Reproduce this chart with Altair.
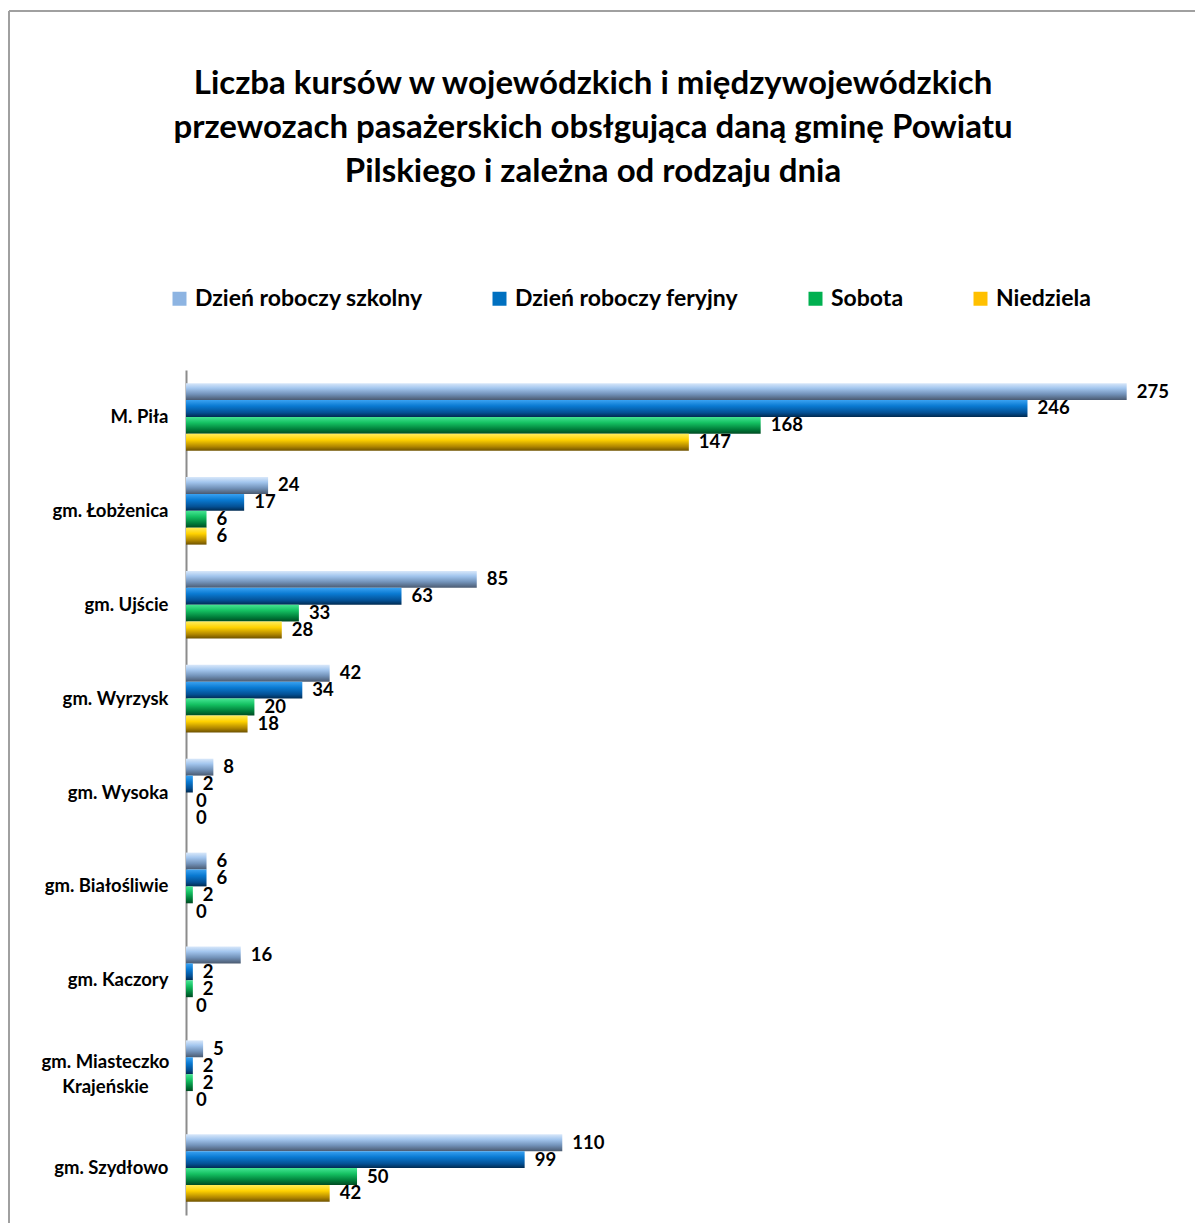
import altair as alt
import pandas as pd

gminy = ["M. Piła", "gm. Łobżenica", "gm. Ujście", "gm. Wyrzysk", "gm. Wysoka",
         "gm. Białośliwie", "gm. Kaczory", "gm. Miasteczko Krajeńskie", "gm. Szydłowo"]
series = ["Dzień roboczy szkolny", "Dzień roboczy feryjny", "Sobota", "Niedziela"]
szkolny = [275, 24, 85, 42, 8, 6, 16, 5, 110]
feryjny = [246, 17, 63, 34, 2, 6, 2, 2, 99]
sobota = [168, 6, 33, 20, 0, 2, 2, 2, 50]
niedziela = [147, 6, 28, 18, 0, 0, 0, 0, 42]
legend_colors = ["#8DB4E2", "#0070C0", "#00B050", "#FFC000"]
gradient_stops = [
    [("#D9E8FA", 0), ("#A3C6EE", 0.3), ("#7393BA", 0.65), ("#4A5A70", 1)],
    [("#3AA2F2", 0), ("#0A7AD2", 0.35), ("#045094", 0.75), ("#002A50", 1)],
    [("#45E593", 0), ("#14C061", 0.35), ("#007A38", 0.75), ("#004A22", 1)],
    [("#FFEC5A", 0), ("#FFD200", 0.35), ("#B08600", 0.75), ("#6E5200", 1)],
]

rows = []
for s, vals in zip(series, [szkolny, feryjny, sobota, niedziela]):
    for g, v in zip(gminy, vals):
        rows.append({"gmina": g, "seria": s, "value": v})
df = pd.DataFrame(rows)

FONT = "Lato"
MULTI = "gm. Miasteczko Krajeńskie"
is_multi = f"datum.value == '{MULTI}'"

base = alt.Chart(df).encode(
    y=alt.Y("gmina:N", sort=gminy,
            scale=alt.Scale(paddingInner=0.28, paddingOuter=0.14),
            axis=alt.Axis(title=None, ticks=False, labelFont=FONT, labelFontSize=18.5,
                          labelFontWeight="bold", labelColor="black",
                          labelPadding={"condition": {"test": is_multi, "value": 81}, "value": 18},
                          labelAlign={"condition": {"test": is_multi, "value": "center"}, "value": "right"},
                          labelOffset={"condition": {"test": is_multi, "value": -12}, "value": 0},
                          domainColor="#8C8C8C", domainWidth=2, grid=False,
                          labelLineHeight=25,
                          labelExpr=f"datum.label == '{MULTI}' ? ['gm. Miasteczko', 'Krajeńskie'] : datum.label")),
    yOffset=alt.YOffset("seria:N", sort=series,
                        scale=alt.Scale(domain=series, paddingInner=0, paddingOuter=0)),
    x=alt.X("value:Q", scale=alt.Scale(domain=[0, 290], nice=False), axis=None),
)

bar_layers = []
for s, stops in zip(series, gradient_stops):
    grad = alt.LinearGradient(
        gradient="linear",
        stops=[alt.GradientStop(color=c, offset=o) for c, o in stops],
        x1=0, x2=0, y1=0, y2=1,
    )
    bar_layers.append(
        base.transform_filter(alt.datum.seria == s).mark_bar(color=grad)
    )

labels = base.mark_text(align="left", baseline="middle", dx=10, font=FONT,
                        fontSize=18.5, fontWeight="bold", color="black").encode(text="value:Q")

legend_layer = base.mark_square(size=0, filled=True).encode(
    color=alt.Color("seria:N", sort=series,
                    scale=alt.Scale(domain=series, range=legend_colors),
                    legend=alt.Legend(title=None, orient="none", legendX=-18, legendY=-83,
                                      direction="horizontal", symbolType="square",
                                      symbolSize=196, symbolOpacity=1, symbolStrokeWidth=0,
                                      labelFont=FONT, labelFontSize=23, labelFontWeight="bold",
                                      labelColor="black", labelOffset=4, columnPadding=65,
                                      labelLimit=500))
)

frame_df = pd.DataFrame({"k": [0]})
frame_top = alt.Chart(frame_df).mark_rule(color="#A0A0A0", strokeWidth=2).encode(
    x=alt.value(-177), x2=alt.value(1100), y=alt.value(-359))
frame_left = alt.Chart(frame_df).mark_rule(color="#A0A0A0", strokeWidth=2).encode(
    x=alt.value(-177), y=alt.value(-359), y2=alt.value(900))

chart = alt.layer(frame_top, frame_left, *bar_layers, labels, legend_layer).properties(
    width=992, height=845,
    padding={"left": 178, "top": 362, "right": 17, "bottom": 8},
    autosize=alt.AutoSizeParams(type="none"),
    title=alt.TitleParams(
        text=["Liczba kursów w wojewódzkich i międzywojewódzkich",
              "przewozach pasażerskich  obsłgująca daną gminę Powiatu",
              "Pilskiego i zależna od rodzaju dnia"],
        font=FONT, fontSize=33, fontWeight="bold", color="black",
        anchor="middle", frame="group", dx=-89, offset=0, dy=179, lineHeight=44),
).configure_view(stroke=None)

chart.save("out.html", embed_options={"renderer": "svg", "actions": False})
